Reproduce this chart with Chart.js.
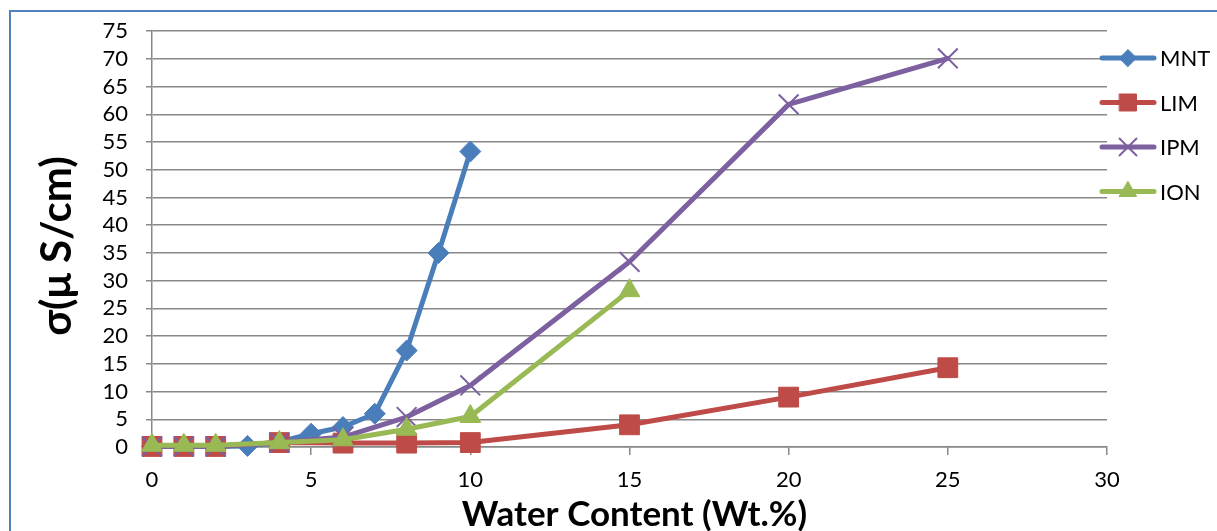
<!DOCTYPE html>
<html>
<head>
<meta charset="utf-8">
<title>Conductivity vs water content</title>
<script src="https://cdn.jsdelivr.net/npm/chart.js@4/dist/chart.umd.min.js"></script>
<style>
  html, body { margin: 0; padding: 0; background: #ffffff; overflow: hidden; }
  #wrap { width: 1217px; height: 531px; position: relative; }
  canvas { display: block; }
</style>
</head>
<body>
<div id="wrap"><canvas id="chart" width="1217" height="531"></canvas></div>
<script>
// Water content (wt.%) and conductivity (µS/cm) for each sample
const seriesNames = ['MNT', 'LIM', 'IPM', 'ION'];

const mntWater = [0, 1, 2, 3, 4, 5, 6, 7, 8, 9, 10];
const mntSigma = [0.1, 0.1, 0.1, 0.2, 0.9, 2.4, 3.6, 6.0, 17.4, 35.0, 53.3];

const limWater = [0, 1, 2, 4, 6, 8, 10, 15, 20, 25];
const limSigma = [0.1, 0.1, 0.1, 0.8, 0.7, 0.7, 0.8, 4.0, 9.0, 14.3];

const ipmWater = [0, 1, 2, 4, 6, 8, 10, 15, 20, 25];
const ipmSigma = [0.1, 0.1, 0.1, 0.8, 1.8, 5.4, 11.1, 33.4, 61.8, 70.1];

const ionWater = [0, 1, 2, 4, 6, 8, 10, 15];
const ionSigma = [0.3, 0.3, 0.3, 0.8, 1.3, 3.2, 5.5, 28.2];

const xTickValues = [0, 5, 10, 15, 20, 25, 30];
const yTickValues = [0, 5, 10, 15, 20, 25, 30, 35, 40, 45, 50, 55, 60, 65, 70, 75];

const FONT = 'Lato, "Open Sans", "Liberation Sans", sans-serif';
const GRID = '#888888';

function pairs(xs, ys) {
  return xs.map((x, i) => ({ x: x, y: ys[i] }));
}

const styles = [
  { color: '#4a7ebb', pointStyle: 'rectRot', radius: 10.5, pointBorderWidth: 1, legendRadius: 8.5 },
  { color: '#be4b48', pointStyle: 'rect', radius: 14, pointBorderWidth: 1, legendRadius: 12 },
  { color: '#7d60a0', pointStyle: 'crossRot', radius: 14, pointBorderWidth: 2, legendRadius: 12 },
  { color: '#98b954', pointStyle: 'triangle', radius: 12, pointBorderWidth: 1, legendRadius: 10 }
];

const seriesData = [
  pairs(mntWater, mntSigma),
  pairs(limWater, limSigma),
  pairs(ipmWater, ipmSigma),
  pairs(ionWater, ionSigma)
];

const datasets = seriesNames.map((name, i) => ({
  label: name,
  data: seriesData[i],
  borderColor: styles[i].color,
  backgroundColor: styles[i].color,
  borderWidth: 5,
  borderJoinStyle: 'round',
  borderCapStyle: 'round',
  tension: 0,
  pointStyle: styles[i].pointStyle,
  pointRadius: styles[i].radius,
  pointHoverRadius: styles[i].radius,
  pointBackgroundColor: styles[i].color,
  pointBorderColor: styles[i].color,
  pointBorderWidth: styles[i].pointBorderWidth,
  clip: false,
  // later series are painted over earlier ones
  order: seriesNames.length - 1 - i
}));

// Outer frame, axis titles and the legend on the right
const decorations = {
  id: 'decorations',
  beforeDraw(chart) {
    const ctx = chart.ctx;
    ctx.save();
    ctx.strokeStyle = '#4f81bd';
    ctx.lineWidth = 2;
    ctx.beginPath();
    ctx.moveTo(10, 600);
    ctx.lineTo(10, 11);
    ctx.lineTo(1300, 11);
    ctx.stroke();
    ctx.restore();
  },
  afterDraw(chart) {
    const ctx = chart.ctx;
    const area = chart.chartArea;
    ctx.save();
    ctx.fillStyle = '#000000';
    ctx.textAlign = 'center';
    ctx.textBaseline = 'middle';
    ctx.font = 'bold 35px ' + FONT;
    ctx.fillText('Water Content (Wt.%)', (area.left + area.right) / 2 + 5, 515);

    ctx.save();
    ctx.translate(57, 246);
    ctx.rotate(-Math.PI / 2);
    ctx.font = 'bold 42px ' + FONT;
    ctx.fillText('σ(μ S/cm)', 0, 0);
    ctx.restore();

    // legend: line sample with marker, then the series name
    chart.data.datasets.forEach((ds, i) => {
      const y = 58 + i * 44.5;
      const st = styles[i];
      ctx.strokeStyle = st.color;
      ctx.fillStyle = st.color;
      ctx.lineWidth = 5;
      ctx.lineCap = 'round';
      ctx.beginPath();
      ctx.moveTo(1102, y);
      ctx.lineTo(1154, y);
      ctx.stroke();
      ctx.lineWidth = st.pointBorderWidth;
      Chart.helpers.drawPoint(ctx, {
        pointStyle: st.pointStyle,
        rotation: 0,
        radius: st.legendRadius,
        borderWidth: st.pointBorderWidth
      }, 1128, y);
      ctx.fillStyle = '#000000';
      ctx.textAlign = 'left';
      ctx.textBaseline = 'middle';
      ctx.font = '22px ' + FONT;
      ctx.fillText(ds.label, 1160, y + 1);
    });
    ctx.restore();
  }
};

new Chart(document.getElementById('chart'), {
  type: 'line',
  data: { datasets: datasets },
  plugins: [decorations],
  options: {
    responsive: false,
    animation: false,
    devicePixelRatio: 1,
    layout: { padding: { top: 27, right: 110, left: 0, bottom: 0 } },
    plugins: {
      legend: { display: false },
      tooltip: { enabled: false },
      title: { display: false }
    },
    scales: {
      x: {
        type: 'linear',
        min: 0,
        max: 30,
        afterBuildTicks(scale) { scale.ticks = xTickValues.map(v => ({ value: v })); },
        afterFit(scale) { scale.height = 84; },
        ticks: { autoSkip: false, maxRotation: 0, color: '#000000', padding: 12, font: { family: FONT, size: 22 } },
        grid: { drawOnChartArea: false, drawTicks: true, tickLength: 8, color: GRID, lineWidth: 1.5 },
        border: { display: true, color: GRID, width: 1.5 }
      },
      y: {
        type: 'linear',
        min: 0,
        max: 75,
        afterBuildTicks(scale) { scale.ticks = yTickValues.map(v => ({ value: v })); },
        afterFit(scale) { scale.width = 152; },
        ticks: { autoSkip: false, color: '#000000', padding: 18, font: { family: FONT, size: 22 } },
        grid: { color: GRID, lineWidth: 1.5, drawTicks: true, tickLength: 6 },
        border: { display: true, color: GRID, width: 1.5 }
      }
    }
  }
});
</script>
</body>
</html>
